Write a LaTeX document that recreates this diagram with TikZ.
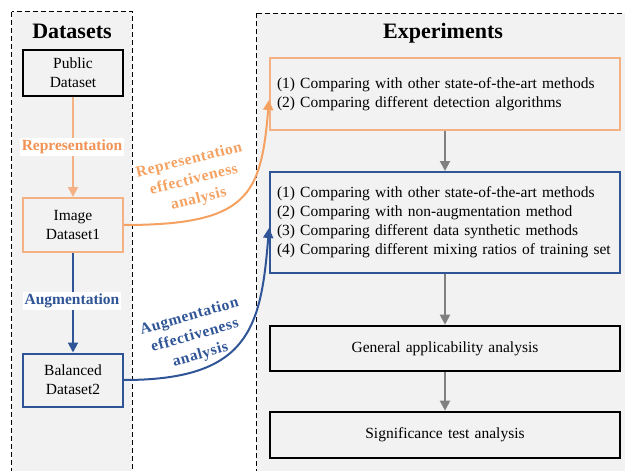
\documentclass[tikz,border=0pt]{standalone}
\usepackage{fontspec}
\setmainfont{Liberation Serif}
\usetikzlibrary{arrows.meta}
\definecolor{panelgray}{HTML}{F2F2F2}
\definecolor{orgbox}{HTML}{F4B183}
\definecolor{orgline}{HTML}{F4A161}
\definecolor{orgtext}{HTML}{F19355}
\definecolor{bluec}{HTML}{2F5597}
\definecolor{grayarrow}{HTML}{808080}
\tikzset{
  panel/.style={draw=black, line width=0.9pt, dash pattern=on 5pt off 3pt, fill=panelgray},
  title/.style={font=\fontsize{22}{26}\selectfont\bfseries},
  dsbox/.style={draw, fill=panelgray, minimum width=100pt, align=center, inner sep=0pt,
    font=\fontsize{15.5}{19}\selectfont},
  expbox/.style={draw, fill=panelgray, minimum width=350pt, text width=336pt, align=left,
    inner xsep=7pt, inner ysep=0pt, font=\fontsize{15.5}{19}\selectfont},
  expcenter/.style={expbox, align=center},
  steplabel/.style={fill=white, inner sep=1.5pt, font=\fontsize{15.5}{19}\selectfont\bfseries},
  curvelabel/.style={align=center, inner sep=0pt,
    font=\fontsize{15.5}{20}\selectfont\bfseries\addfontfeature{LetterSpace=4}},
  tri/.style={-{Triangle[length=10pt,width=10pt]}},
}
\begin{document}
\begin{tikzpicture}[x=1pt,y=-1pt]
\useasboundingbox (0,0) rectangle (625,471);
\clip (0,0) rectangle (625,471);
% panels
\path[panel] (11.5,11.5) rectangle (132,480);
\path[panel] (256,13) rectangle (640,480);
\node[title] (dtitle) at (72,31) {Datasets};
\node[title] (etitle) at (443,33) {Experiments};
% dataset boxes
\node[dsbox, line width=2.6pt, minimum height=46pt] (pub) at (73,73) {Public\\Dataset};
\node[dsbox, draw=orgbox, line width=2pt, minimum height=54pt] (img) at (73,225) {Image\\Dataset1};
\node[dsbox, draw=bluec, line width=2pt, minimum height=53pt] (bal) at (73,380) {Balanced\\Dataset2};
\draw[tri, orgbox, line width=2pt] (pub) -- (img);
\draw[tri, bluec, line width=2pt] (img) -- (bal);
\node[steplabel, text=orgtext] (replab) at (72,147) {Representation};
\node[steplabel, text=bluec] (auglab) at (72,301) {Augmentation};
% experiment boxes
\node[expbox, draw=orgbox, line width=2pt, minimum height=72pt] (e1) at (445,94)
  {(1) Comparing with other state-of-the-art methods\\(2) Comparing different detection algorithms};
\node[expbox, draw=bluec, line width=2pt, minimum height=101pt] (e2) at (445,222.5)
  {(1) Comparing with other state-of-the-art methods\\(2) Comparing with non-augmentation method\\(3) Comparing different data synthetic methods\\(4) Comparing different mixing ratios of training set};
\node[expcenter, line width=2.6pt, minimum height=45pt] (e3) at (445,348.5) {General applicability analysis};
\node[expcenter, line width=2.6pt, minimum height=46pt] (e4) at (445,435) {Significance test analysis};
\draw[tri, grayarrow, line width=2pt] (e1) -- (e2);
\draw[tri, grayarrow, line width=2pt] (e2) -- (e3);
\draw[tri, grayarrow, line width=2pt] (e3) -- (e4);
% curved arrows
\coordinate (e1in) at (269,100);
\coordinate (e2in) at (269,228);
\draw[tri, orgline, line width=2pt] (img.east) .. controls +(125,0) and +(-8,95) .. (e1in);
\draw[tri, bluec, line width=2pt] (bal.east) .. controls +(125,0) and +(-8,100) .. (e2in);
\node[curvelabel, text=orgline, rotate=14] (replab2) at (194,180) {Representation\\effectiveness\\analysis};
\node[curvelabel, text=bluec, rotate=16] (auglab2) at (195,336) {Augmentation\\effectiveness\\analysis};
\end{tikzpicture}
\end{document}
